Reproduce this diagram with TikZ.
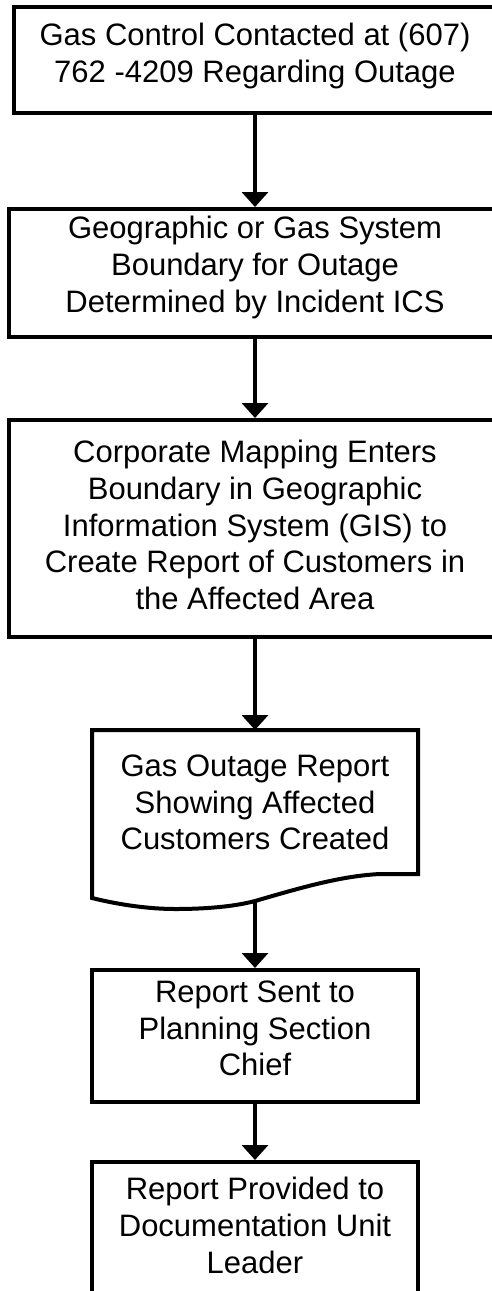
\documentclass[tikz,border=0pt]{standalone}
\usepackage{fontspec}
\setmainfont{Liberation Sans}
\usetikzlibrary{arrows.meta}
\tikzset{
  box/.style={draw, line width=4pt, rectangle, inner sep=0pt},
  txt/.style={inner sep=0pt, align=center, font=\fontsize{31pt}{36.7pt}\selectfont},
  flow/.style={line width=3.5pt, -{Triangle[width=26pt,length=15pt]}},
  docline/.style={line width=4pt, line join=miter}
}
\begin{document}
\begin{tikzpicture}[x=1pt,y=-1pt]
\useasboundingbox (0,0) rectangle (492,1291);
\clip (0,0) rectangle (492,1291);
\node[box, minimum width=482pt, minimum height=106pt] (b1) at (255,60) {};
\node[txt] (t1) at (255,56)
  {Gas Control Contacted at (607)\\762 -4209 Regarding Outage};
\node[box, minimum width=492pt, minimum height=128pt] (b2) at (255,273) {};
\node[txt] (t2) at (255,267.5)
  {Geographic or Gas System\\Boundary for Outage\\Determined by Incident ICS};
\node[box, minimum width=492pt, minimum height=217pt] (b3) at (255,528.5) {};
\node[txt] (t3) at (255,525)
  {Corporate Mapping Enters\\Boundary in Geographic\\Information System (GIS) to\\Create Report of Customers in\\the Affected Area};
\node[txt] (doc) at (255,802.5)
  {Gas Outage Report\\Showing Affected\\Customers Created};
\draw[docline] (92,898) -- (92,730) -- (418,730) -- (418,874) -- (380,874)
  .. controls (340,876) and (300,888) .. (255,901)
  .. controls (240,905) and (215,909) .. (175,909)
  .. controls (150,909) and (120,905) .. (92,898) -- cycle;
\coordinate (docb) at (255,902);
\coordinate (doct) at (255,730);
\node[box, minimum width=326pt, minimum height=132pt] (b5) at (255,1036) {};
\node[txt] (t5) at (255,1028.5)
  {Report Sent to\\Planning Section\\Chief};
\node[box, minimum width=326pt, minimum height=132pt] (b6) at (255,1228) {};
\node[txt] (t6) at (255,1225.5)
  {Report Provided to\\Documentation Unit\\Leader};
\draw[flow] (b1) -- (b2);
\draw[flow] (b2) -- (b3);
\draw[flow] (b3) -- (doct);
\draw[flow] (docb) -- (b5);
\draw[flow] (b5) -- (b6);
\end{tikzpicture}
\end{document}
